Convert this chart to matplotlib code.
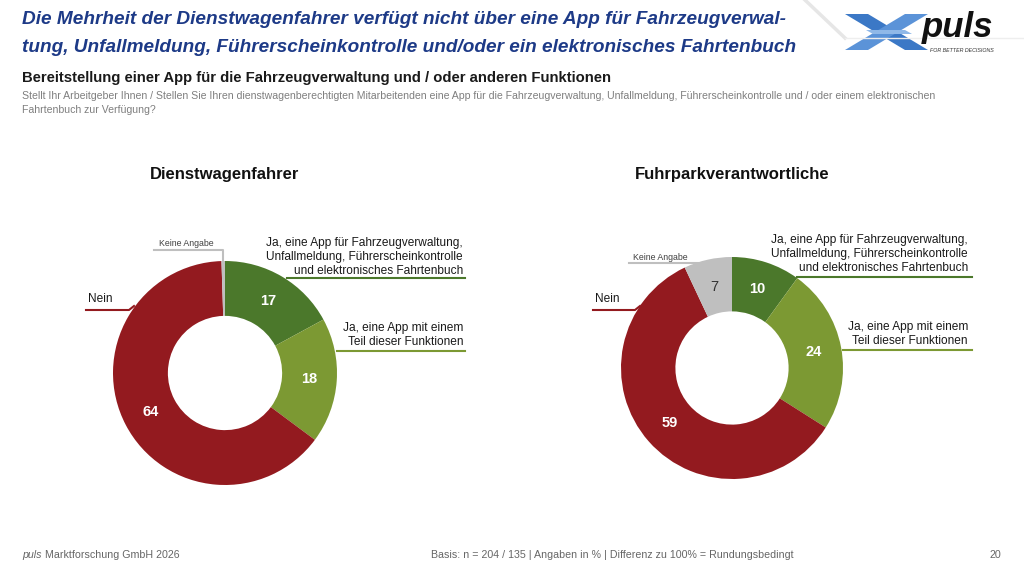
import matplotlib
matplotlib.use("Agg")
import matplotlib.pyplot as plt
from matplotlib.patches import Polygon
import numpy as np

# ---------------- data ----------------
categories = ["Ja, eine App für Fahrzeugverwaltung,\nUnfallmeldung, Führerscheinkontrolle\nund elektronisches Fahrtenbuch",
              "Ja, eine App mit einem\nTeil dieser Funktionen",
              "Nein",
              "Keine Angabe"]
chart_titles = ["Dienstwagenfahrer", "Fuhrparkverantwortliche"]
values_driver = [17, 18, 64, 0.5]
values_fleet = [10, 24, 59, 7]
labels_driver = ["17", "18", "64", ""]
labels_fleet = ["10", "24", "59", "7"]

colors = ["#4b782b", "#7c9933", "#931a1f", "#bfbfbf"]

W, H = 1024, 576
fig = plt.figure(figsize=(W / 100, H / 100), dpi=100)
fig.patch.set_facecolor("white")
bg = fig.add_axes([0, 0, 1, 1])
bg.set_xlim(0, W)
bg.set_ylim(H, 0)
bg.axis("off")

SANS = ["Liberation Sans", "DejaVu Sans"]

# ---------------- header ----------------
title_col = "#1d3a87"
bg.text(22, 20, "Die Mehrheit der Dienstwagenfahrer verfügt nicht über eine App für Fahrzeugverwal-",
        fontsize=13.7, fontweight="bold", fontstyle="italic", color=title_col, family=SANS, va="center")
bg.text(22, 48, "tung, Unfallmeldung, Führerscheinkontrolle und/oder ein elektronisches Fahrtenbuch",
        fontsize=13.7, fontweight="bold", fontstyle="italic", color=title_col, family=SANS, va="center")
bg.text(22, 78, "Bereitstellung einer App für die Fahrzeugverwaltung und / oder anderen Funktionen",
        fontsize=10.7, fontweight="bold", color="#1a1a1a", family=SANS, va="center")
bg.text(22, 96, "Stellt Ihr Arbeitgeber Ihnen / Stellen Sie Ihren dienstwagenberechtigten Mitarbeitenden eine App für die Fahrzeugverwaltung, Unfallmeldung, Führerscheinkontrolle und / oder einem elektronischen",
        fontsize=7.6, color="#7f7f7f", family=SANS, va="center")
bg.text(22, 110, "Fahrtenbuch zur Verfügung?",
        fontsize=7.6, color="#7f7f7f", family=SANS, va="center")

# logo (approximation)
bg.plot([805, 845], [0, 38], color="#e6e6e6", lw=2.5)
bg.plot([845, 1024], [38, 38], color="#eeeeee", lw=1)
blue = "#3b78c6"
bg.add_patch(Polygon([[845, 14], [868, 14], [928, 50], [905, 50]], closed=True, color=blue, lw=0))
bg.add_patch(Polygon([[845, 50], [868, 50], [928, 14], [905, 14]], closed=True, color="#5b93d8", lw=0))
bg.add_patch(Polygon([[866, 30], [905, 30], [912, 34], [873, 34]], closed=True, color="#8fb8e8", lw=0))
bg.text(958, 28, "puls", fontsize=25, fontweight="bold", fontstyle="italic", color="#111111",
        family=SANS, ha="center", va="center")
bg.text(962, 51, "FOR BETTER DECISIONS", fontsize=3.8, fontstyle="italic", color="#333333",
        family=SANS, ha="center", va="center")

# ---------------- donuts ----------------
def donut(cx, cy, R, values, texts, title):
    ax = fig.add_axes([(cx - R) / W, (H - cy - R) / H, 2 * R / W, 2 * R / H])
    wedges, _ = ax.pie(values, colors=colors, startangle=90, counterclock=False, radius=1.0,
                       wedgeprops=dict(width=0.49, linewidth=0))
    ax.set_xlim(-1, 1)
    ax.set_ylim(-1, 1)
    ax.set_aspect("equal")
    ax.axis("off")
    for w, t, c in zip(wedges, texts, colors):
        if not t:
            continue
        ang = np.deg2rad((w.theta1 + w.theta2) / 2)
        r = 0.75
        col = "#333333" if c == "#bfbfbf" else "white"
        fw = "normal" if c == "#bfbfbf" else "bold"
        ax.text(r * np.cos(ang), r * np.sin(ang), t, ha="center", va="center",
                fontsize=10.5, fontweight=fw, color=col, family=SANS)
    bg.text(cx, 175, title, fontsize=12, fontweight="bold", color="#111111", family=SANS,
            ha="center", va="center")

donut(225, 373, 112, values_driver, labels_driver, chart_titles[0])
donut(732, 368, 111, values_fleet, labels_fleet, chart_titles[1])

lab_fs = 8.6
# left chart labels
bg.text(463, 257, categories[0], fontsize=lab_fs, color="#1a1a1a", family=SANS,
        ha="right", va="center", linespacing=1.2)
bg.plot([287, 465], [278, 278], color=colors[0], lw=1.5)
bg.text(463, 335, categories[1], fontsize=lab_fs, color="#1a1a1a", family=SANS,
        ha="right", va="center", linespacing=1.2)
bg.plot([337, 465], [351, 351], color=colors[1], lw=1.5)
bg.text(88, 299, categories[2], fontsize=lab_fs, color="#1a1a1a", family=SANS, ha="left", va="center")
bg.plot([86, 129, 134], [310, 310, 306], color=colors[2], lw=1.5)
bg.text(186, 243, categories[3], fontsize=6.3, color="#404040", family=SANS, ha="center", va="center")
bg.plot([154, 223, 223], [250, 250, 261], color=colors[3], lw=1.5)

# right chart labels
bg.text(968, 254, categories[0], fontsize=lab_fs, color="#1a1a1a", family=SANS,
        ha="right", va="center", linespacing=1.2)
bg.plot([797, 972], [277, 277], color=colors[0], lw=1.5)
bg.text(968, 334, categories[1], fontsize=lab_fs, color="#1a1a1a", family=SANS,
        ha="right", va="center", linespacing=1.2)
bg.plot([843, 972], [350, 350], color=colors[1], lw=1.5)
bg.text(595, 299, categories[2], fontsize=lab_fs, color="#1a1a1a", family=SANS, ha="left", va="center")
bg.plot([593, 635, 640], [310, 310, 306], color=colors[2], lw=1.5)
bg.text(660, 257, categories[3], fontsize=6.3, color="#404040", family=SANS, ha="center", va="center")
bg.plot([629, 730], [263, 263], color=colors[3], lw=1.5)

# ---------------- footer ----------------
bg.text(22, 555, "puls", fontsize=7.7, fontstyle="italic", color="#666666", family=SANS, va="center")
bg.text(45, 555, "Marktforschung GmbH 2026", fontsize=7.7, color="#666666", family=SANS, va="center")
bg.text(612, 555, "Basis: n = 204 / 135 | Angaben in % | Differenz zu 100% = Rundungsbedingt",
        fontsize=7.7, color="#666666", family=SANS, ha="center", va="center")
bg.text(1001, 555, "20", fontsize=7.7, color="#666666", family=SANS, ha="right", va="center")

fig.savefig("out.png", dpi=100, facecolor="white")
